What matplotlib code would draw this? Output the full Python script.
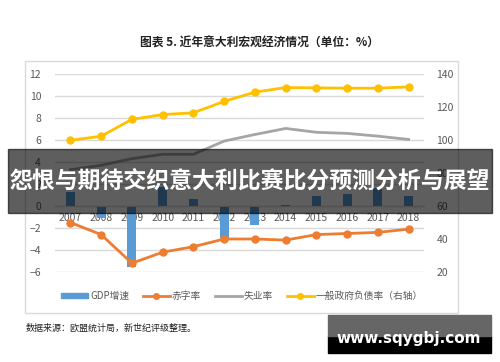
import numpy as np
import matplotlib
matplotlib.use('Agg')
import matplotlib.pyplot as plt
from matplotlib.patches import Rectangle
from matplotlib.lines import Line2D

plt.rcParams['font.family'] = ['Noto Sans CJK SC', 'DejaVu Sans']

# data
years = ['2007', '2008', '2009', '2010', '2011', '2012',
         '2013', '2014', '2015', '2016', '2017', '2018']
gdp = [1.3, -1.1, -5.5, 1.7, 0.6, -2.9, -1.7, 0.1, 0.9, 1.1, 1.6, 0.9]
deficit = [-1.5, -2.6, -5.2, -4.2, -3.7, -3.0, -3.0, -3.1, -2.6, -2.5, -2.4, -2.1]
unemp = [3.3, 3.7, 4.3, 4.7, 4.7, 5.9, 6.5, 7.05, 6.7, 6.6, 6.35, 6.05]
debt = [99.8, 102.3, 112.5, 115.4, 116.5, 123.4, 129.0, 131.8, 131.6, 131.4, 131.4, 132.2]

labels = ['GDP增速', '赤字率', '失业率', '一般政府负债率（右轴）']
colors = ['#5B9BD5', '#ED7D31', '#A5A5A5', '#FFC000']
tick_gray = '#595959'

fig = plt.figure(figsize=(5.0, 3.62), dpi=100)

# outer chart frame
fig.patches.append(Rectangle((25 / 500, 1 - 313 / 362), 433 / 500, 252 / 362,
                             transform=fig.transFigure, fill=False,
                             edgecolor='#D9D9D9', linewidth=1.0, zorder=0))

ax = fig.add_axes([55 / 500, 1 - 272 / 362, 369 / 500, 198 / 362])
ax2 = ax.twinx()

x = np.arange(len(years))
ax.bar(x, gdp, width=0.3, color=colors[0], zorder=2)
ax.plot(x, deficit, color=colors[1], lw=2, marker='o', ms=5, zorder=3)
ax.plot(x, unemp, color=colors[2], lw=2, zorder=3)
ax2.plot(x, debt, color=colors[3], lw=2, marker='o', ms=5, zorder=3)

ax.set_xlim(-0.5, len(years) - 0.5)
ax.set_ylim(-6, 12)
ax.set_yticks(np.arange(-6, 13, 2))
ax2.set_ylim(20, 140)
ax2.set_yticks(np.arange(20, 141, 20))
ax.grid(axis='y', color='#D9D9D9', lw=1, zorder=0)
ax.set_axisbelow(True)

for a in (ax, ax2):
    for s in a.spines.values():
        s.set_visible(False)
    a.tick_params(length=0, labelsize=7.5, labelcolor=tick_gray)

ax.spines['bottom'].set_visible(True)
ax.spines['bottom'].set_position(('data', 0))
ax.spines['bottom'].set_color('#D9D9D9')
ax.set_xticks(x)
ax.set_xticklabels(years)
ax.tick_params(axis='x', pad=5)
ax.tick_params(axis='y', pad=10)
ax2.tick_params(axis='y', pad=9)

handles = [Rectangle((0, 0), 1, 1, color=colors[0]),
           Line2D([], [], color=colors[1], lw=2, marker='o', ms=4),
           Line2D([], [], color=colors[2], lw=2),
           Line2D([], [], color=colors[3], lw=2, marker='o', ms=4)]
fig.legend(handles, labels, loc='center', bbox_to_anchor=(242 / 500, 1 - 296 / 362),
           ncol=4, frameon=False, fontsize=7, handlelength=2.8, handleheight=0.5,
           columnspacing=1.4, handletextpad=0.2, labelcolor=tick_gray)

fig.text(260 / 500, 1 - 43 / 362, '图表 5. 近年意大利宏观经济情况（单位：%）',
         ha='center', va='center', fontsize=8.5, fontweight='bold', color='#222222')
fig.text(26 / 500, 1 - 328 / 362, '数据来源：欧盟统计局，新世纪评级整理。',
         ha='left', va='center', fontsize=6.5, color='#222222')

# overlay banner
fig.patches.append(Rectangle((8 / 500, 1 - 213 / 362), 484 / 500, 64 / 362,
                             transform=fig.transFigure, color='black',
                             alpha=0.63, zorder=10))
fig.text(250 / 500, 1 - 181 / 362, '怨恨与期待交织意大利比赛比分预测分析与展望',
         ha='center', va='center', fontsize=16.5, fontweight='bold',
         color='white', zorder=11)

# watermark
fig.patches.append(Rectangle((328 / 500, 1 - 353 / 362), 163 / 500, 17 / 362,
                             transform=fig.transFigure, color='black', zorder=10))
fig.patches.append(Rectangle((328 / 500, 1 - 336 / 362), 163 / 500, 21 / 362,
                             transform=fig.transFigure, color='#666666', zorder=10))
fig.text(409 / 500, 1 - 338 / 362, 'www.sqygbj.com', ha='center', va='center',
         fontsize=11, fontweight='bold', color='white', zorder=11,
         family=['DejaVu Sans'])

fig.savefig('out.png', dpi=100)
